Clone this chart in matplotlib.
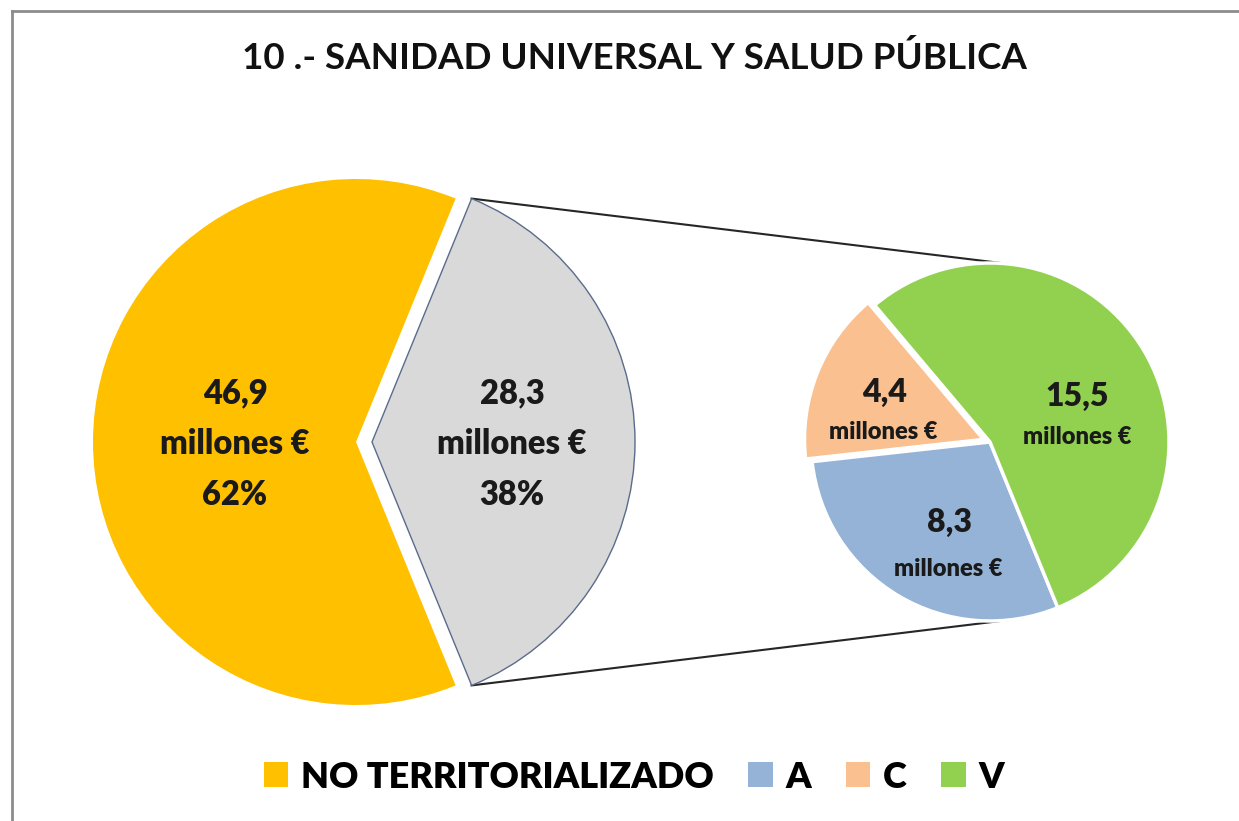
import numpy as np
import matplotlib
matplotlib.use("Agg")
import matplotlib.pyplot as plt
from matplotlib.lines import Line2D

plt.rcParams['font.family'] = ['Lato', 'DejaVu Sans']

# ---- data ----
title = "10 .- SANIDAD UNIVERSAL Y SALUD PÚBLICA"
main_labels = ["NO TERRITORIALIZADO", "TERRITORIALIZADO"]
main_values = [46.9, 28.3]
main_pct = ["62%", "38%"]
sub_labels = ["A", "C", "V"]
sub_values = [8.3, 4.4, 15.5]
unit = "millones €"

c_orange = "#FFC000"
c_gray = "#D9D9D9"
sub_colors = ["#95B3D7", "#FAC090", "#92D050"]

W, H = 1239, 821
fig = plt.figure(figsize=(W / 100, H / 100), dpi=100)
ax = fig.add_axes([0, 0, 1, 1])

# main pie (gray slice centred on 0 deg, exploded to the right)
tot = sum(main_values)
gfrac = main_values[1] / tot
half = gfrac * 180.0
c1 = (356, 379)
r1 = 263
w1, _ = ax.pie([main_values[1], main_values[0]], colors=[c_gray, c_orange],
               startangle=-half, counterclock=True, center=c1, radius=r1,
               explode=[16, 0], wedgeprops=dict(linewidth=0))
w1[0].set_edgecolor("#5B6B8C")
w1[0].set_linewidth(1.0)

# secondary pie
c2 = (990, 379)
r2 = 179
w2, _ = ax.pie(sub_values, colors=sub_colors, startangle=-half,
               counterclock=False, center=c2, radius=r2,
               explode=[0, 7, 0],
               wedgeprops=dict(edgecolor="white", linewidth=2.5))

# connector lines
gx = c1[0] + 16
for ang_main, ang_sub in [(half, 83.0), (-half, -84.5)]:
    x0 = gx + r1 * np.cos(np.radians(ang_main))
    y0 = c1[1] + r1 * np.sin(np.radians(ang_main))
    x1 = c2[0] + r2 * np.cos(np.radians(ang_sub))
    y1 = c2[1] + r2 * np.sin(np.radians(ang_sub))
    ax.plot([x0, x1], [y0, y1], color="#262626", lw=1.5, zorder=0)

def fmt(v):
    return f"{v:.1f}".replace(".", ",")

FW = 800
# main labels
ax.text(235, H - 444, f"{fmt(main_values[0])}\n{unit}\n{main_pct[0]}",
        ha="center", va="center", fontsize=23.5, fontweight=FW,
        linespacing=1.72, color="#1a1a1a")
ax.text(512, H - 444, f"{fmt(main_values[1])}\n{unit}\n{main_pct[1]}",
        ha="center", va="center", fontsize=23.5, fontweight=FW,
        linespacing=1.72, color="#1a1a1a")

# sub labels: (value pos, unit pos) in pixel coords
sub_pos = [((950, 522), (948, 569)), ((885, 392), (883, 432)), ((1077, 396), (1077, 437))]
for v, (pv, pu) in zip(sub_values, sub_pos):
    ax.text(pv[0], H - pv[1], fmt(v), ha="center", va="center",
            fontsize=23, fontweight=FW, color="#1a1a1a")
    ax.text(pu[0], H - pu[1], unit, ha="center", va="center",
            fontsize=17, fontweight=FW, color="#1a1a1a")

ax.set_xlim(0, W)
ax.set_ylim(0, H)
ax.set_aspect("equal")
ax.axis("off")

# title
fig.text(634 / W, 1 - 58 / H, title, ha="center", va="center",
         fontsize=26.5, fontweight="bold", color="#111111")

# legend
handles = [w1[1], w2[0], w2[1], w2[2]]
leg = fig.legend(handles, [main_labels[0]] + sub_labels, ncol=4,
                 loc="center", bbox_to_anchor=(634 / W, 1 - 777 / H),
                 frameon=False, prop=dict(size=26, weight=FW),
                 handlelength=0.68, handleheight=0.68, handletextpad=0.36,
                 columnspacing=0.95)
for h in leg.legend_handles:
    h.set_edgecolor("none")

# chart border (left & top visible)
bc = "#8C8C8C"
fig.add_artist(Line2D([12 / W, 12 / W], [0, 1 - 11 / H], color=bc, lw=2,
                      transform=fig.transFigure))
fig.add_artist(Line2D([12 / W, 1], [1 - 11 / H, 1 - 11 / H], color=bc, lw=2,
                      transform=fig.transFigure))

fig.savefig("out.png", dpi=100, facecolor="white")
